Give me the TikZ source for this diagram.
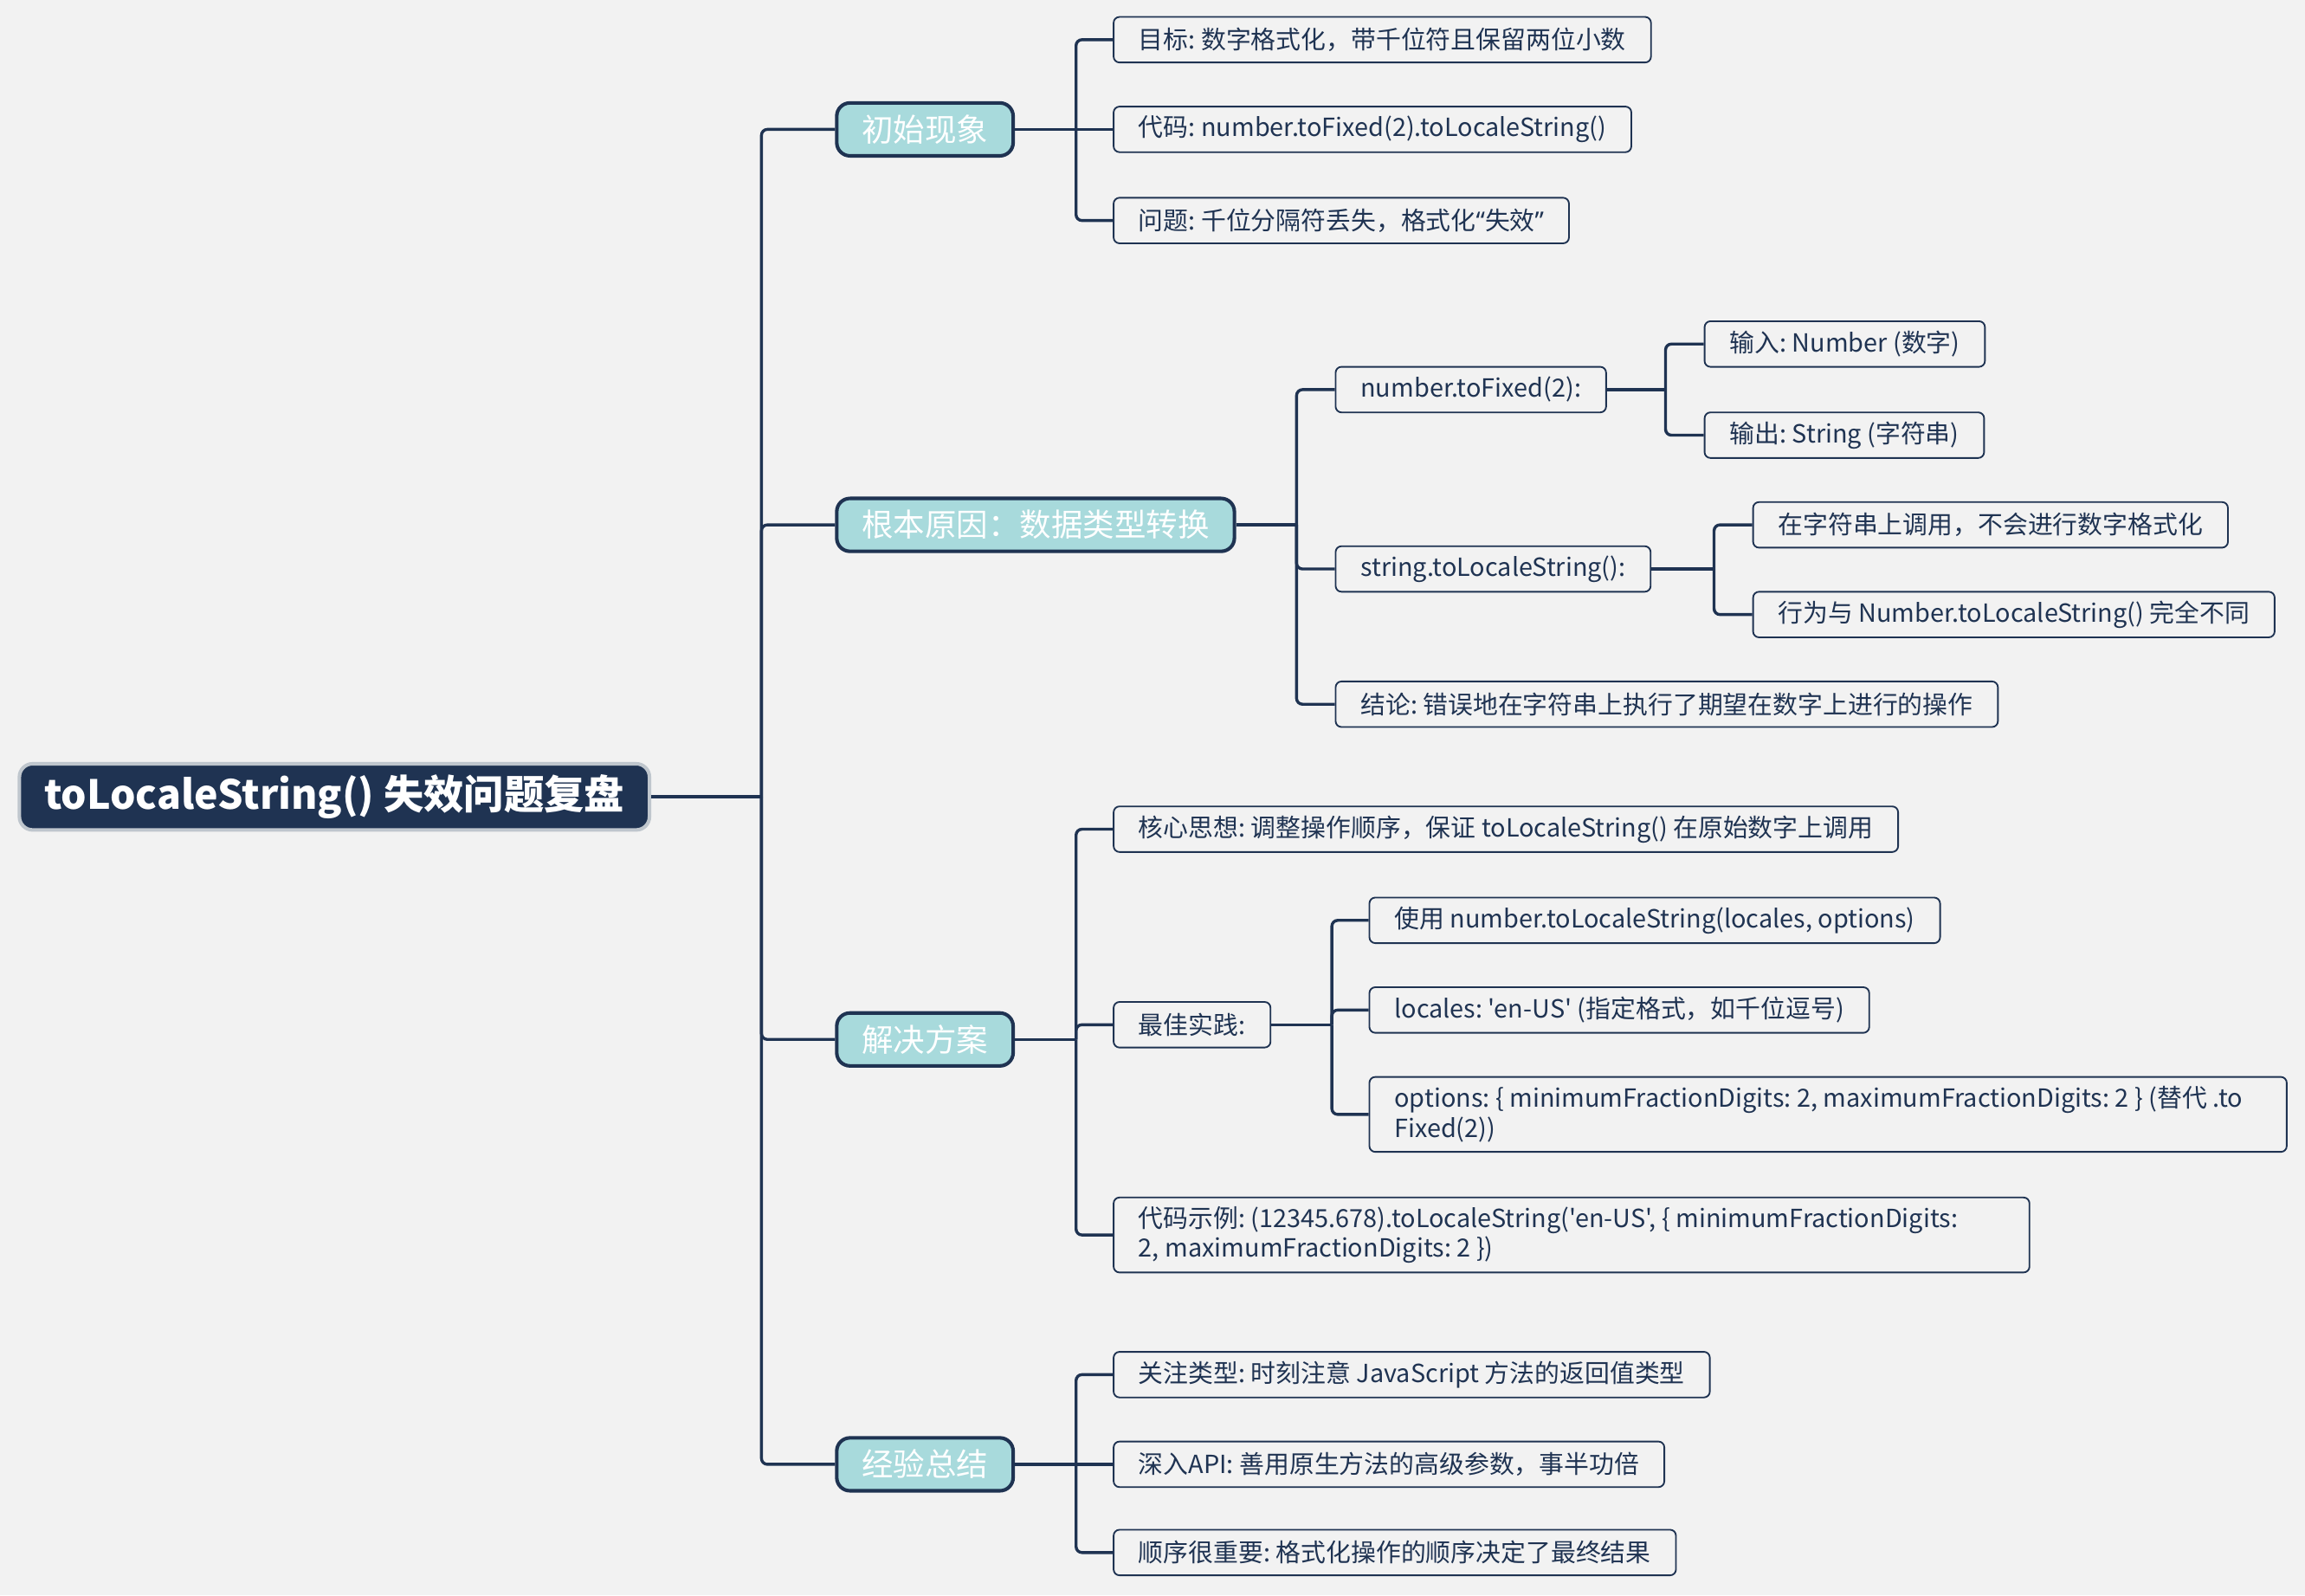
\documentclass[tikz,border=0pt]{standalone}
\usepackage{fontspec}
\newfontfamily\cjk{Noto Sans CJK SC}
\newfontfamily\latin{Noto Sans}
\usetikzlibrary{positioning,calc}
\definecolor{navy}{HTML}{1F3352}
\definecolor{mint}{HTML}{A8DADC}
\definecolor{paper}{HTML}{F2F2F2}
\definecolor{rimgray}{HTML}{BFC6CD}

\tikzset{
  leaf node/.style={draw=navy,line width=1.1pt,rounded corners=4pt,fill=paper,text=navy,
    font=\cjk\frenchspacing\fontsize{17}{20.5}\selectfont,inner xsep=17pt,inner ysep=0pt,
    minimum height=31pt,align=left,anchor=west},
  topic node/.style={draw=navy,line width=2.4pt,rounded corners=9pt,fill=mint,text=white,
    font=\cjk\fontsize{21.5}{26}\selectfont,inner xsep=17pt,inner ysep=0pt,
    minimum height=36pt,anchor=west},
  root node/.style={draw=rimgray,line width=2.4pt,rounded corners=9pt,fill=navy,text=white,
    font=\cjk\bfseries\fontsize{27.3}{33}\selectfont,inner xsep=17pt,inner ysep=0pt,
    minimum height=45pt,anchor=west},
  link/.style={draw=navy,line width=2pt,rounded corners=4pt}
}

\begin{document}
\begin{tikzpicture}[x=1pt,y=-1pt]
\fill[paper] (0,0) rectangle (1568,1085);

\node[root node] (Root) at (12,542) {toLocaleString() 失效问题复盘};

\node[topic node] (Symptom) at (568,88) {初始现象};
\node[topic node] (Cause) at (568,357) {根本原因：数据类型转换};
\node[topic node] (Fix) at (568,707) {解决方案};
\node[topic node] (Lesson) at (568,996) {经验总结};

% symptom
\node[leaf node] (SymptomGoal) at (757,27) {目标: 数字格式化，带千位符且保留两位小数};
\node[leaf node] (SymptomCode) at (757,88) {代码: number.toFixed(2).toLocaleString()};
\node[leaf node] (SymptomIssue) at (757,150) {问题: 千位分隔符丢失，格式化{\latin “}失效{\latin ”}};

% cause
\node[leaf node] (CauseFixed) at (908,265) {number.toFixed(2):};
\node[leaf node] (FixedIn) at (1159,234) {输入: Number (数字)};
\node[leaf node] (FixedOut) at (1159,296) {输出: String (字符串)};
\node[leaf node] (CauseString) at (908,387) {string.toLocaleString():};
\node[leaf node] (StringCall) at (1192,357) {在字符串上调用，不会进行数字格式化};
\node[leaf node] (StringDiff) at (1192,418) {行为与 Number.toLocaleString() 完全不同};
\node[leaf node] (CauseEnd) at (908,479) {结论: 错误地在字符串上执行了期望在数字上进行的操作};

% fix
\node[leaf node] (FixIdea) at (757,564) {核心思想: 调整操作顺序，保证 toLocaleString() 在原始数字上调用};
\node[leaf node] (FixBest) at (757,697) {最佳实践:};
\node[leaf node] (BestUse) at (931,626) {使用 number.toLocaleString(locales, options)};
\node[leaf node] (BestLocales) at (931,687) {locales: 'en-US' (指定格式，如千位逗号)};
\node[leaf node,minimum height=51pt,text width=590pt] (BestOptions) at (931,758)
  {\spaceskip=0pt\xspaceskip=0pt options: \{ minimumFractionDigits: 2, maximumFractionDigits: 2 \} (替代 .to\\Fixed(2))};
\node[leaf node,minimum height=51pt,text width=589pt] (FixSample) at (757,840)
  {\spaceskip=0pt\xspaceskip=0pt 代码示例: (12345.678).toLocaleString('en-US', \{ minimumFractionDigits:\\2, maximumFractionDigits: 2 \})};

% lesson
\node[leaf node] (LessonType) at (757,935) {关注类型: 时刻注意 JavaScript 方法的返回值类型};
\node[leaf node] (LessonApi) at (757,996) {深入API: 善用原生方法的高级参数，事半功倍};
\node[leaf node] (LessonOrder) at (757,1056) {顺序很重要: 格式化操作的顺序决定了最终结果};

\coordinate (RootBus) at (518,542);
\coordinate (SymptomBus) at (732,88);
\coordinate (CauseBus) at (882,357);
\coordinate (FixedBus) at (1133,265);
\coordinate (StringBus) at (1166,387);
\coordinate (FixBus) at (732,707);
\coordinate (BestBus) at (906,697);
\coordinate (LessonBus) at (732,996);

\draw[link] (Root.east) -- (RootBus);
\foreach \t in {Symptom,Cause,Fix,Lesson}
  \draw[link] (RootBus) |- (\t.west);

\draw[link] (Symptom.east) -- (SymptomCode.west);
\foreach \l in {SymptomGoal,SymptomIssue}
  \draw[link] (SymptomBus) |- (\l.west);

\draw[link] (Cause.east) -- (CauseBus);
\foreach \l in {CauseFixed,CauseString,CauseEnd}
  \draw[link] (CauseBus) |- (\l.west);

\draw[link] (CauseFixed.east) -- (FixedBus);
\foreach \l in {FixedIn,FixedOut}
  \draw[link] (FixedBus) |- (\l.west);

\draw[link] (CauseString.east) -- (StringBus);
\foreach \l in {StringCall,StringDiff}
  \draw[link] (StringBus) |- (\l.west);

\draw[link] (Fix.east) -- (FixBus);
\foreach \l in {FixIdea,FixBest,FixSample}
  \draw[link] (FixBus) |- (\l.west);

\draw[link] (FixBest.east) -- (BestBus);
\foreach \l in {BestUse,BestLocales,BestOptions}
  \draw[link] (BestBus) |- (\l.west);

\draw[link] (Lesson.east) -- (LessonApi.west);
\foreach \l in {LessonType,LessonOrder}
  \draw[link] (LessonBus) |- (\l.west);

\end{tikzpicture}
\end{document}
